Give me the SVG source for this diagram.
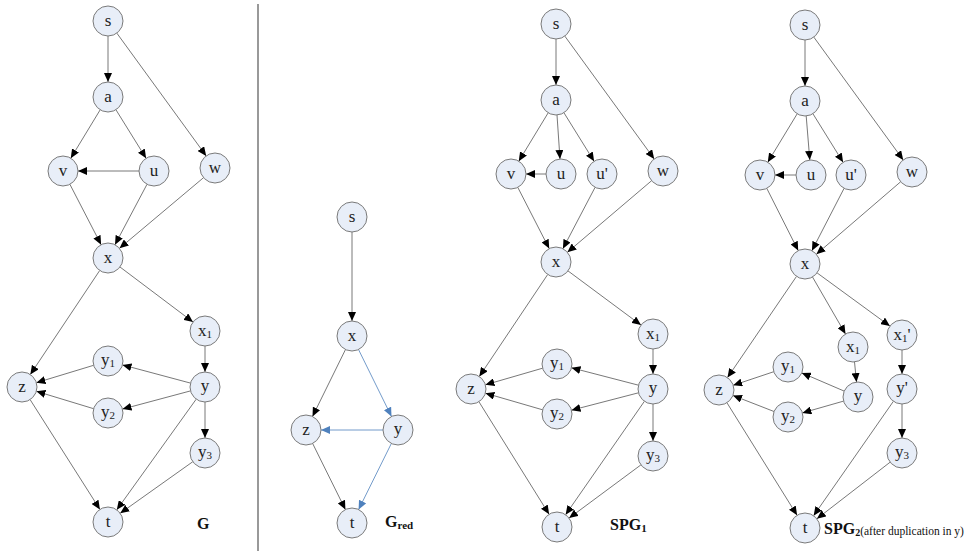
<svg xmlns="http://www.w3.org/2000/svg" width="969" height="556" viewBox="0 0 969 556">
<style>
.n circle{fill:#e8eef8;stroke:#7a7a7a;stroke-width:1}
.n text{font-family:"Liberation Serif","Times New Roman",serif;font-size:17px;fill:#222;text-anchor:middle}
.sub{font-size:11px}
.e line{stroke:#555;stroke-width:0.8;fill:none}
.e line.k{marker-end:url(#ak)}
.e line.b{stroke:#4f81bd;marker-end:url(#ab)}
.lbl{font-family:"Liberation Serif","Times New Roman",serif;font-weight:bold;fill:#111}
.note{font-weight:normal;font-size:11.5px}
</style>
<defs>
<marker id="ak" markerUnits="userSpaceOnUse" markerWidth="10" markerHeight="8" refX="9" refY="4" orient="auto"><path d="M0,0 L9,4 L0,8 z" fill="#000"/></marker>
<marker id="ab" markerUnits="userSpaceOnUse" markerWidth="10" markerHeight="8" refX="9" refY="4" orient="auto"><path d="M0,0 L9,4 L0,8 z" fill="#4f81bd"/></marker>
</defs>
<rect width="969" height="556" fill="#fff"/>
<line x1="258" y1="4" x2="258" y2="551" stroke="#555" stroke-width="1.2"/>
<g id="connectors" class="e">
<!-- G -->
<line class="k" x1="108" y1="36" x2="108" y2="82"/>
<line class="k" x1="116.8" y1="33.1" x2="206.2" y2="155.9"/>
<line class="k" x1="100.2" y1="109.8" x2="70.8" y2="158.2"/>
<line class="k" x1="115.9" y1="109.7" x2="146.1" y2="158.3"/>
<line class="k" x1="139" y1="171" x2="78" y2="171"/>
<line class="k" x1="69.9" y1="184.3" x2="101.1" y2="244.7"/>
<line class="k" x1="147" y1="184.3" x2="115" y2="244.7"/>
<line class="k" x1="203.5" y1="177.7" x2="119.5" y2="248.3"/>
<line class="k" x1="99.7" y1="270.5" x2="30.3" y2="374.5"/>
<line class="k" x1="120" y1="267" x2="193" y2="322"/>
<line class="k" x1="205" y1="346" x2="205" y2="372"/>
<line class="k" x1="190.5" y1="383.1" x2="122.5" y2="364.9"/>
<line class="k" x1="190.5" y1="390.9" x2="122.5" y2="409.1"/>
<line class="k" x1="93.6" y1="365.3" x2="36.4" y2="382.7"/>
<line class="k" x1="93.6" y1="408.7" x2="36.4" y2="391.3"/>
<line class="k" x1="205" y1="402" x2="205" y2="438"/>
<line class="k" x1="30.1" y1="399.6" x2="99.9" y2="509.4"/>
<line class="k" x1="196.2" y1="399.2" x2="116.8" y2="509.8"/>
<line class="k" x1="192.8" y1="461.7" x2="120.2" y2="513.3"/>
<!-- Gred -->
<line class="k" x1="352" y1="232" x2="352" y2="321"/>
<line class="k" x1="345.5" y1="349.5" x2="312.5" y2="416.5"/>
<line class="b" x1="358.5" y1="349.5" x2="391.5" y2="416.5"/>
<line class="b" x1="383" y1="430" x2="321" y2="430"/>
<line class="k" x1="312.6" y1="443.4" x2="345.4" y2="509.6"/>
<line class="b" x1="391.4" y1="443.4" x2="358.6" y2="509.6"/>
<!-- SPG1 -->
<line class="k" x1="556" y1="39" x2="556" y2="85"/>
<line class="k" x1="564.8" y1="36.1" x2="654.2" y2="158.9"/>
<line class="k" x1="548.2" y1="112.8" x2="518.8" y2="161.2"/>
<line class="k" x1="557" y1="115" x2="560" y2="159"/>
<line class="k" x1="563.9" y1="112.7" x2="594.1" y2="161.3"/>
<line class="k" x1="546" y1="174" x2="526" y2="174"/>
<line class="k" x1="517.8" y1="187.4" x2="549.2" y2="248.6"/>
<line class="k" x1="595.1" y1="187.3" x2="562.9" y2="248.7"/>
<line class="k" x1="651.6" y1="180.7" x2="567.4" y2="252.3"/>
<line class="k" x1="547.7" y1="274.5" x2="479.3" y2="376.5"/>
<line class="k" x1="568" y1="270.9" x2="641" y2="325.1"/>
<line class="k" x1="653" y1="349" x2="653" y2="374"/>
<line class="k" x1="638.5" y1="385.2" x2="571.5" y2="367.8"/>
<line class="k" x1="638.5" y1="392.8" x2="571.5" y2="410.2"/>
<line class="k" x1="542.6" y1="368.2" x2="485.4" y2="384.8"/>
<line class="k" x1="542.6" y1="409.8" x2="485.4" y2="393.2"/>
<line class="k" x1="653" y1="404" x2="653" y2="441"/>
<line class="k" x1="478.9" y1="401.7" x2="549.1" y2="514.3"/>
<line class="k" x1="644.4" y1="401.3" x2="565.6" y2="514.7"/>
<line class="k" x1="640.9" y1="464.9" x2="569.1" y2="518.1"/>
<!-- SPG2 -->
<line class="k" x1="805" y1="40" x2="805" y2="86"/>
<line class="k" x1="813.8" y1="37.1" x2="903.2" y2="159.9"/>
<line class="k" x1="797.2" y1="113.8" x2="767.8" y2="162.2"/>
<line class="k" x1="806.2" y1="116" x2="809.8" y2="160"/>
<line class="k" x1="812.9" y1="113.7" x2="843.1" y2="162.3"/>
<line class="k" x1="796" y1="175" x2="775" y2="175"/>
<line class="k" x1="766.8" y1="188.4" x2="798.2" y2="250.6"/>
<line class="k" x1="844.1" y1="188.3" x2="811.9" y2="250.7"/>
<line class="k" x1="900.6" y1="181.8" x2="816.4" y2="254.2"/>
<line class="k" x1="796.5" y1="276.4" x2="727.5" y2="377.6"/>
<line class="k" x1="812.5" y1="277" x2="845.5" y2="334"/>
<line class="k" x1="817.1" y1="272.9" x2="889.9" y2="326.1"/>
<line class="k" x1="854.5" y1="361.9" x2="856.5" y2="382.1"/>
<line class="k" x1="902" y1="350" x2="902" y2="374"/>
<line class="k" x1="844.2" y1="391.1" x2="801.8" y2="372.9"/>
<line class="k" x1="843.6" y1="401.1" x2="802.4" y2="412.9"/>
<line class="k" x1="773.8" y1="371.7" x2="733.2" y2="385.3"/>
<line class="k" x1="774" y1="411.5" x2="733" y2="395.5"/>
<line class="k" x1="902" y1="404" x2="902" y2="438"/>
<line class="k" x1="726.9" y1="402.7" x2="797.1" y2="515.3"/>
<line class="k" x1="893.4" y1="401.3" x2="813.6" y2="515.7"/>
<line class="k" x1="890.1" y1="462.2" x2="816.9" y2="518.8"/>
</g>
<!-- G nodes -->
<g id="G-s" class="n"><circle cx="108" cy="21" r="15"/><text x="108" y="26">s</text></g>
<g id="G-a" class="n"><circle cx="108" cy="97" r="15"/><text x="108" y="102">a</text></g>
<g id="G-v" class="n"><circle cx="63" cy="171" r="15"/><text x="63" y="176">v</text></g>
<g id="G-u" class="n"><circle cx="154" cy="171" r="15"/><text x="154" y="176">u</text></g>
<g id="G-w" class="n"><circle cx="215" cy="168" r="15"/><text x="215" y="173">w</text></g>
<g id="G-x" class="n"><circle cx="108" cy="258" r="15"/><text x="108" y="263">x</text></g>
<g id="G-x1" class="n"><circle cx="205" cy="331" r="15"/><text x="205" y="336">x<tspan class="sub" dy="2">1</tspan></text></g>
<g id="G-y1" class="n"><circle cx="108" cy="361" r="15"/><text x="108" y="365">y<tspan class="sub" dy="2">1</tspan></text></g>
<g id="G-z" class="n"><circle cx="22" cy="387" r="15"/><text x="22" y="392">z</text></g>
<g id="G-y" class="n"><circle cx="205" cy="387" r="15"/><text x="205" y="391">y</text></g>
<g id="G-y2" class="n"><circle cx="108" cy="413" r="15"/><text x="108" y="417">y<tspan class="sub" dy="2">2</tspan></text></g>
<g id="G-y3" class="n"><circle cx="205" cy="453" r="15"/><text x="205" y="457">y<tspan class="sub" dy="2">3</tspan></text></g>
<g id="G-t" class="n"><circle cx="108" cy="522" r="15"/><text x="108" y="527">t</text></g>
<text class="lbl" x="197" y="529" font-size="16">G</text>
<!-- Gred nodes -->
<g id="R-s" class="n"><circle cx="352" cy="217" r="15"/><text x="352" y="222">s</text></g>
<g id="R-x" class="n"><circle cx="352" cy="336" r="15"/><text x="352" y="341">x</text></g>
<g id="R-z" class="n"><circle cx="306" cy="430" r="15"/><text x="306" y="435">z</text></g>
<g id="R-y" class="n"><circle cx="398" cy="430" r="15"/><text x="398" y="434">y</text></g>
<g id="R-t" class="n"><circle cx="352" cy="523" r="15"/><text x="352" y="528">t</text></g>
<text class="lbl" x="385" y="527" font-size="16">G<tspan font-size="11" dy="2">red</tspan></text>
<!-- SPG1 nodes -->
<g id="S1-s" class="n"><circle cx="556" cy="24" r="15"/><text x="556" y="29">s</text></g>
<g id="S1-a" class="n"><circle cx="556" cy="100" r="15"/><text x="556" y="105">a</text></g>
<g id="S1-v" class="n"><circle cx="511" cy="174" r="15"/><text x="511" y="179">v</text></g>
<g id="S1-u" class="n"><circle cx="561" cy="174" r="15"/><text x="561" y="179">u</text></g>
<g id="S1-u2" class="n"><circle cx="602" cy="174" r="15"/><text x="602" y="179">u'</text></g>
<g id="S1-w" class="n"><circle cx="663" cy="171" r="15"/><text x="663" y="176">w</text></g>
<g id="S1-x" class="n"><circle cx="556" cy="262" r="15"/><text x="556" y="267">x</text></g>
<g id="S1-x1" class="n"><circle cx="653" cy="334" r="15"/><text x="653" y="339">x<tspan class="sub" dy="2">1</tspan></text></g>
<g id="S1-y1" class="n"><circle cx="557" cy="364" r="15"/><text x="557" y="368">y<tspan class="sub" dy="2">1</tspan></text></g>
<g id="S1-z" class="n"><circle cx="471" cy="389" r="15"/><text x="471" y="394">z</text></g>
<g id="S1-y" class="n"><circle cx="653" cy="389" r="15"/><text x="653" y="393">y</text></g>
<g id="S1-y2" class="n"><circle cx="557" cy="414" r="15"/><text x="557" y="418">y<tspan class="sub" dy="2">2</tspan></text></g>
<g id="S1-y3" class="n"><circle cx="653" cy="456" r="15"/><text x="653" y="460">y<tspan class="sub" dy="2">3</tspan></text></g>
<g id="S1-t" class="n"><circle cx="557" cy="527" r="15"/><text x="557" y="532">t</text></g>
<text class="lbl" x="610" y="530" font-size="16">SPG<tspan font-size="11" dy="2">1</tspan></text>
<!-- SPG2 nodes -->
<g id="S2-s" class="n"><circle cx="805" cy="25" r="15"/><text x="805" y="30">s</text></g>
<g id="S2-a" class="n"><circle cx="805" cy="101" r="15"/><text x="805" y="106">a</text></g>
<g id="S2-v" class="n"><circle cx="760" cy="175" r="15"/><text x="760" y="180">v</text></g>
<g id="S2-u" class="n"><circle cx="811" cy="175" r="15"/><text x="811" y="180">u</text></g>
<g id="S2-u2" class="n"><circle cx="851" cy="175" r="15"/><text x="851" y="180">u'</text></g>
<g id="S2-w" class="n"><circle cx="912" cy="172" r="15"/><text x="912" y="177">w</text></g>
<g id="S2-x" class="n"><circle cx="805" cy="264" r="15"/><text x="805" y="269">x</text></g>
<g id="S2-x1p" class="n"><circle cx="902" cy="335" r="15"/><text x="902" y="340">x<tspan class="sub" dy="2">1</tspan><tspan dy="-2">'</tspan></text></g>
<g id="S2-x1" class="n"><circle cx="853" cy="347" r="15"/><text x="853" y="352">x<tspan class="sub" dy="2">1</tspan></text></g>
<g id="S2-y1" class="n"><circle cx="788" cy="367" r="15"/><text x="788" y="371">y<tspan class="sub" dy="2">1</tspan></text></g>
<g id="S2-z" class="n"><circle cx="719" cy="390" r="15"/><text x="719" y="395">z</text></g>
<g id="S2-y" class="n"><circle cx="858" cy="397" r="15"/><text x="858" y="401">y</text></g>
<g id="S2-yp" class="n"><circle cx="902" cy="389" r="15"/><text x="902" y="393">y'</text></g>
<g id="S2-y2" class="n"><circle cx="788" cy="417" r="15"/><text x="788" y="421">y<tspan class="sub" dy="2">2</tspan></text></g>
<g id="S2-y3" class="n"><circle cx="902" cy="453" r="15"/><text x="902" y="457">y<tspan class="sub" dy="2">3</tspan></text></g>
<g id="S2-t" class="n"><circle cx="805" cy="528" r="15"/><text x="805" y="533">t</text></g>
<text class="lbl" x="824" y="534" font-size="16">SPG<tspan font-size="10" dy="2">2</tspan><tspan class="note" dy="-1">(after duplication in y)</tspan></text>
</svg>
